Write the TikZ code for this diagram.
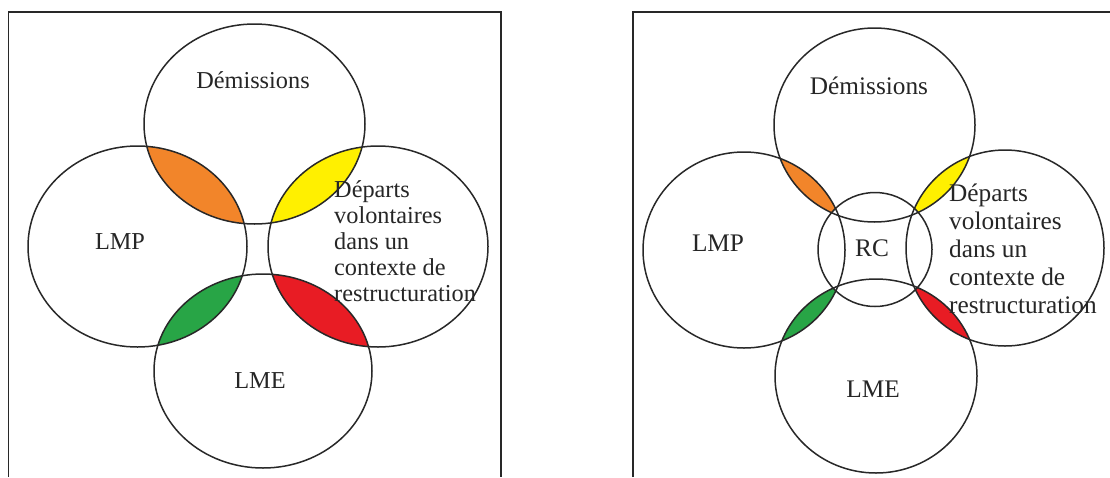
\documentclass[tikz,border=0pt]{standalone}
\usepackage{fontspec}
\setmainfont{Liberation Serif}
\definecolor{lineg}{RGB}{40,40,40}
\definecolor{corange}{RGB}{242,133,42}
\definecolor{cyellow}{RGB}{255,240,0}
\definecolor{cgreen}{RGB}{40,165,70}
\definecolor{cred}{RGB}{232,28,36}
\tikzset{
  outline/.style={draw=lineg, line width=1.5pt},
  frameline/.style={draw=lineg, line width=1.2pt},
  lbl/.style={text=black!85, inner sep=0pt, font=\fontsize{24.3}{26}\selectfont},
  lblb/.style={text=black!85, inner sep=0pt, font=\fontsize{25.3}{28}\selectfont},
}
\begin{document}
\begin{tikzpicture}[x=1pt,y=-1pt]
\useasboundingbox (0,0) rectangle (1110,477);
\fill[white] (0,0) rectangle (1110,477);

% ---------- left panel ----------
\coordinate (Ldem) at (254.5,124);
\coordinate (Llmp) at (137.5,246.5);
\coordinate (Ldep) at (378,246.5);
\coordinate (Llme) at (263,371);
\begin{scope}
  \clip (Ldem) ellipse [x radius=110.5, y radius=-100];
  \fill[corange] (Llmp) ellipse [x radius=109.5, y radius=-100.5];
  \fill[cyellow] (Ldep) ellipse [x radius=110, y radius=-100.5];
\end{scope}
\begin{scope}
  \clip (Llme) ellipse [x radius=109, y radius=-97];
  \fill[cgreen] (Llmp) ellipse [x radius=109.5, y radius=-100.5];
  \fill[cred] (Ldep) ellipse [x radius=110, y radius=-100.5];
\end{scope}
\path[outline] (Ldem) ellipse [x radius=110.5, y radius=-100];
\path[outline] (Llmp) ellipse [x radius=109.5, y radius=-100.5];
\path[outline] (Ldep) ellipse [x radius=110, y radius=-100.5];
\path[outline] (Llme) ellipse [x radius=109, y radius=-97];
\coordinate (LfA) at (8.5,477);
\coordinate (LfB) at (8.5,12);
\coordinate (LfC) at (501,12);
\coordinate (LfD) at (501,477);
\draw[frameline] (LfA) -- (LfB) -- (LfC) -- (LfD);
\node[lbl] (LtDem) at (253,80) {Démissions};
\node[lbl] (LtLmp) at (120,242) {LMP};
\node[lbl] (LtLme) at (260,381) {LME};
\node[lbl, anchor=west, align=left] (LtDep) at (334,241)
  {Départs\\volontaires\\dans un\\contexte de\\restructuration};

% ---------- right panel ----------
\coordinate (Rdem) at (874.5,125);
\coordinate (Rlmp) at (744,250);
\coordinate (Rdep) at (1005,248);
\coordinate (Rlme) at (876,376);
\coordinate (Rrc) at (875,249.5);
\begin{scope}
  \clip (Rdem) ellipse [x radius=100.5, y radius=-97];
  \fill[corange] (Rlmp) ellipse [x radius=101, y radius=-98];
  \fill[cyellow] (Rdep) ellipse [x radius=99, y radius=-98];
\end{scope}
\begin{scope}
  \clip (Rlme) ellipse [x radius=101, y radius=-97];
  \fill[cgreen] (Rlmp) ellipse [x radius=101, y radius=-98];
  \fill[cred] (Rdep) ellipse [x radius=99, y radius=-98];
\end{scope}
\fill[white] (Rrc) circle [radius=57];
\path[outline] (Rdem) ellipse [x radius=100.5, y radius=-97];
\path[outline] (Rlmp) ellipse [x radius=101, y radius=-98];
\path[outline] (Rdep) ellipse [x radius=99, y radius=-98];
\path[outline] (Rlme) ellipse [x radius=101, y radius=-97];
\path[outline] (Rrc) circle [radius=57];
\coordinate (RfA) at (633,477);
\coordinate (RfB) at (633,12);
\coordinate (RfC) at (1110,12);
\draw[frameline] (RfA) -- (RfB) -- (RfC);
\node[lblb] (RtDem) at (869,86) {Démissions};
\node[lblb] (RtLmp) at (718,243) {LMP};
\node[lblb] (RtRc) at (872,248) {RC};
\node[lblb] (RtLme) at (873,389) {LME};
\node[lblb, anchor=west, align=left] (RtDep) at (949,249)
  {Départs\\volontaires\\dans un\\contexte de\\restructuration};
\end{tikzpicture}
\end{document}
